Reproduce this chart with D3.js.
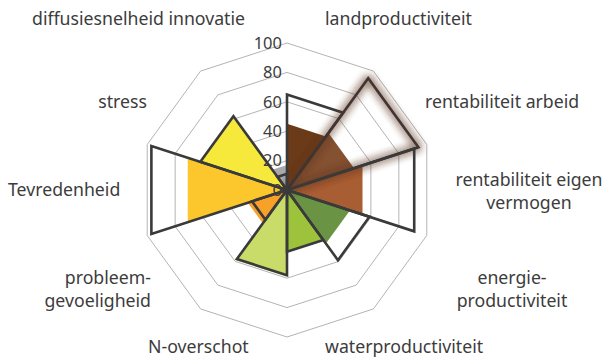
<!DOCTYPE html>
<html>
<head>
<meta charset="utf-8">
<script src="https://cdn.jsdelivr.net/npm/d3@7"></script>
<style>
body{margin:0;background:#fff;}
text{font-family:"Noto Sans",sans-serif;fill:#3c3c3c;}
</style>
</head>
<body>
<script>
// categories clockwise from the top
const categories=["landproductiviteit","rentabiliteit arbeid","rentabiliteit eigen vermogen","energieproductiviteit","waterproductiviteit","N-overschot","probleemgevoeligheid","Tevredenheid","stress","diffusiesnelheid innovatie"];
const fillValues=[45,48,54,45,42,59,28,71,62,17];
const outlineValues=[65,94,91,59,42,58,25,97,62,11];
const colors=["#6b3a18","#845131","#a95d32","#6a9444","#9dc23c","#c9dc6a","#f7a128","#fcc72c","#f6e93c","#a9a9a9"];
const ticks=[0,20,40,60,80,100];
const glowIndex=1;

const m={width:605,height:358,cx:287,cy:190,r:147};

svg=d3.select("body")
    .append("svg")
    .attr("width",m.width)
    .attr("height",m.height)

const defs=svg.append("defs");
const f=defs.append("filter").attr("id","glow").attr("x","-30%").attr("y","-30%").attr("width","160%").attr("height","160%");
f.append("feGaussianBlur").attr("in","SourceAlpha").attr("stdDeviation",4.5).attr("result","b");
f.append("feFlood").attr("flood-color","#5e3a28").attr("flood-opacity",1).attr("result","c");
f.append("feComposite").attr("in","c").attr("in2","b").attr("operator","in").attr("result","s");
const mg=f.append("feMerge");
mg.append("feMergeNode").attr("in","s");
mg.append("feMergeNode").attr("in","s");
mg.append("feMergeNode").attr("in","SourceGraphic");

g=svg.append("g").attr("transform","translate("+m.cx+","+m.cy+")");

const r=d3.scaleLinear().domain([0,100]).range([0,m.r]);
const n=categories.length;
const ang=i=>i*2*Math.PI/n;

// grid rings
const ring=d3.lineRadial().angle(d=>d[0]).radius(d=>d[1]).curve(d3.curveLinearClosed);
g.selectAll("path.grid")
    .data(ticks.filter(t=>t>0))
    .enter().append("path")
    .attr("class","grid")
    .attr("fill","none")
    .attr("stroke","#b4b4b4")
    .attr("stroke-width",1)
    .attr("d",t=>ring(d3.range(n).map(i=>[ang(i),r(t)])));

const wedge=(v,i)=>ring([[0,0],[ang(i),r(v)],[ang(i+1),r(v)]]);

g.selectAll("path.fill")
    .data(fillValues)
    .enter().append("path")
    .attr("class","fill")
    .attr("fill",(d,i)=>colors[i])
    .attr("d",(d,i)=>wedge(d,i));

// value axis labels
g.selectAll("text.tick")
    .data(ticks)
    .enter().append("text")
    .attr("class","tick")
    .attr("x",-5)
    .attr("y",t=>-r(t))
    .attr("dy","0.35em")
    .attr("text-anchor","end")
    .style("font-size","16.5px")
    .text(t=>t);

g.selectAll("path.outline")
    .data(outlineValues)
    .enter().append("path")
    .attr("class","outline")
    .attr("fill","none")
    .attr("stroke",(d,i)=>i==glowIndex?"#3f3431":"#3a3a3a")
    .attr("stroke-width",2.6)
    .attr("stroke-linejoin","miter")
    .attr("filter",(d,i)=>i==glowIndex?"url(#glow)":null)
    .attr("d",(d,i)=>wedge(d,i));

// category labels, placed as in the original layout
const labelLayout=[
    {lines:["landproductiviteit"],x:325,y:25,a:"start"},
    {lines:["rentabiliteit arbeid"],x:425,y:108,a:"start"},
    {lines:["rentabiliteit eigen","vermogen"],x:529,y:186,a:"middle"},
    {lines:["energie-","productiviteit"],x:512,y:284,a:"middle"},
    {lines:["waterproductiviteit"],x:325,y:353,a:"start"},
    {lines:["N-overschot"],x:148,y:353,a:"start"},
    {lines:["probleem-","gevoeligheid"],x:151,y:284,a:"end"},
    {lines:["Tevredenheid"],x:8,y:196,a:"start"},
    {lines:["stress"],x:147,y:108,a:"end"},
    {lines:["diffusiesnelheid innovatie"],x:32,y:25,a:"start"}
];
svg.selectAll("text.cat")
    .data(labelLayout)
    .enter().append("text")
    .attr("class","cat")
    .attr("x",d=>d.x)
    .attr("y",d=>d.y)
    .attr("text-anchor",d=>d.a)
    .style("font-size","17.7px")
    .each(function(d){
        d3.select(this).selectAll("tspan")
            .data(d.lines)
            .enter().append("tspan")
            .attr("x",d.x)
            .attr("dy",(t,i)=>i?23:0)
            .text(t=>t);
    });
</script>
</body>
</html>
